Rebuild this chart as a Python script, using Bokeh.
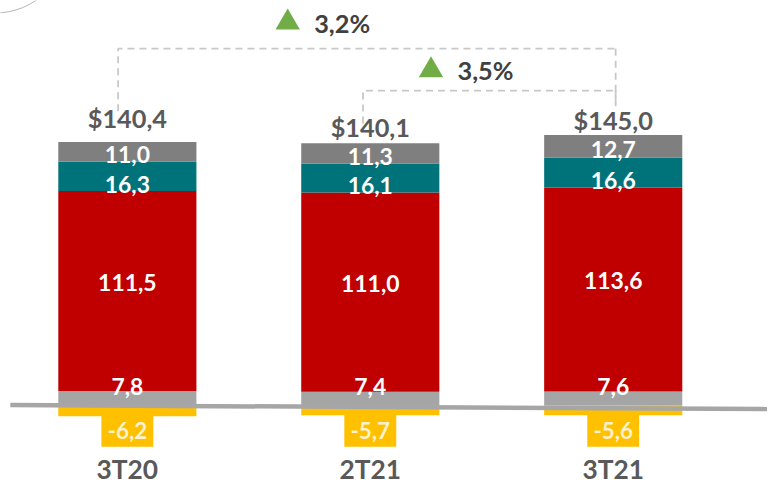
from bokeh.plotting import figure
from bokeh.models import Range1d, ColumnDataSource
from bokeh.core.properties import value
from bokeh.embed import file_html
from bokeh.resources import INLINE

# ---------------- data ----------------
categories = ["3T20", "2T21", "3T21"]
seg_light = [7.8, 7.4, 7.6]
seg_red = [111.5, 111.0, 113.6]
seg_teal = [16.3, 16.1, 16.6]
seg_dark = [11.0, 11.3, 12.7]
seg_neg = [-6.2, -5.7, -5.6]
total_labels = ["$140,4", "$140,1", "$145,0"]
growth_pairs = [(0, 2), (1, 2)]
growth_labels = ["3,2%", "3,5%"]

# ---------------- layout ----------------
W, H = 767, 484
RW, RH = 783, 500          # reference frame the layout is measured in
SX, SY = W / RW, H / RH     # screen scale
SF = (SX + SY) / 2
PX = 1.855                  # reference pixels per value unit
XU = 248.0                  # reference pixels per category step
BW = 141 / XU               # bar width (in category steps)
FONT = value("Lato")


def fs(px):
    return f"{px * SF:.1f}px"


C_LIGHT = "#a5a5a5"
C_RED = "#c00000"
C_TEAL = "#00737a"
C_DARK = "#7f7f7f"
C_YEL = "#ffc000"
C_TXT = "#595959"

x_start = -129.5 / XU
x_end = (RW - 129.5) / XU
y_start = -(RH - 418) / PX
y_end = 418 / PX

p = figure(width=W, height=H, x_range=Range1d(x_start, x_end),
           y_range=Range1d(y_start, y_end), x_axis_type=None, y_axis_type=None,
           output_backend="svg", toolbar_location=None, min_border=0)
p.grid.visible = False
p.outline_line_color = None
p.background_fill_color = "white"
p.border_fill_color = "white"

xs = list(range(len(categories)))
pos_top = [a + b + c + d for a, b, c, d in zip(seg_light, seg_red, seg_teal, seg_dark)]

src = ColumnDataSource(dict(x=xs, light=seg_light, red=seg_red, teal=seg_teal,
                            dark=seg_dark, neg=seg_neg))

# decorative circle outline at top-left corner
p.circle(x=[(-5 - 129.5) / XU], y=[(418 + 60.7) / PX], radius=72.7 * SX,
         radius_units="screen", fill_color=None, line_color="#b5b5b5", line_width=1)

p.vbar_stack(["light", "red", "teal", "dark"], x="x", width=BW, source=src,
             fill_color=[C_LIGHT, C_RED, C_TEAL, C_DARK], line_color=None)
p.vbar(x="x", top=0, bottom="neg", width=BW, source=src,
       fill_color=C_YEL, line_color=None)

# yellow label boxes for negative values
p.rect(x=xs, y=[-23.5 / PX] * len(xs), width=53 * SX, height=39 * SY,
       width_units="screen", height_units="screen",
       fill_color=C_YEL, line_color=None)

# baseline
p.segment(x0=[(10 - 129.5) / XU], y0=[0], x1=[x_end], y1=[-4 / PX],
          line_color="#a6a6a6", line_width=4.5)

# inner labels
lx, ly, lt, lo = [], [], [], []
for i in xs:
    base = 0
    for seg, off in ((seg_light, -12), (seg_red, -9), (seg_teal, 8), (seg_dark, 3)):
        v = seg[i]
        lx.append(i)
        ly.append(base + v / 2)
        lt.append(f"{v:.1f}".replace(".", ","))
        lo.append(off * SY)
        base += v
p.text(x=lx, y=ly, text=lt, y_offset=lo, text_align="center",
       text_baseline="middle", text_color="white", text_font=FONT,
       text_font_style="bold", text_font_size=fs(23.5))

# negative labels
p.text(x=xs, y=[0] * len(xs), text=[f"{v:.1f}".replace(".", ",") for v in seg_neg],
       y_offset=26 * SY, text_align="center", text_baseline="middle",
       text_color="#fff2cc", text_font=FONT, text_font_style="bold",
       text_font_size=fs(23))

# totals
total_dy = [25, 17, 15]
p.text(x=xs, y=pos_top, text=total_labels, y_offset=[-d * SY for d in total_dy],
       text_align="center", text_baseline="middle", text_color=C_TXT,
       text_font=FONT, text_font_style="bold", text_font_size=fs(26))

# categories
p.text(x=xs, y=[0] * len(xs), text=categories, y_offset=66 * SY, text_align="center",
       text_baseline="middle", text_color=C_TXT, text_font=FONT,
       text_font_style="bold", text_font_size=fs(27))

# growth brackets
top_max = max(pos_top)
levels = [top_max + 48, top_max + 24.7]
left_dx = [-0.038, -0.03]
right_dx = 0.01
label_x = [0.66, 1.25]
label_dy = [27, 21]
mx, my = [], []
for (a, b), lev, dx in zip(growth_pairs, levels, left_dx):
    xl = a + dx
    xr = b + right_dx
    mx.append([xl, xl, xr])
    my.append([pos_top[a] + 11 + 6 * (a == 0), lev, lev])
    mx.append([xr, xr])
    my.append([lev, pos_top[b] + 16])
p.multi_line(xs=mx, ys=my, line_color="#c8c8c8", line_width=1.8, line_dash="7 5")

tri_y = [lev + dy / PX for lev, dy in zip(levels, label_dy)]
p.scatter(x=label_x, y=tri_y, marker="triangle", size=25 * SF,
          fill_color="#70ad47", line_color=None)
p.text(x=[lx_ + 27 / XU for lx_ in label_x], y=tri_y, text=growth_labels,
       text_align="left", text_baseline="middle", text_color="#404040",
       text_font=FONT, text_font_style="bold", text_font_size=fs(26))

open("out.html", "w").write(file_html(p, INLINE))
